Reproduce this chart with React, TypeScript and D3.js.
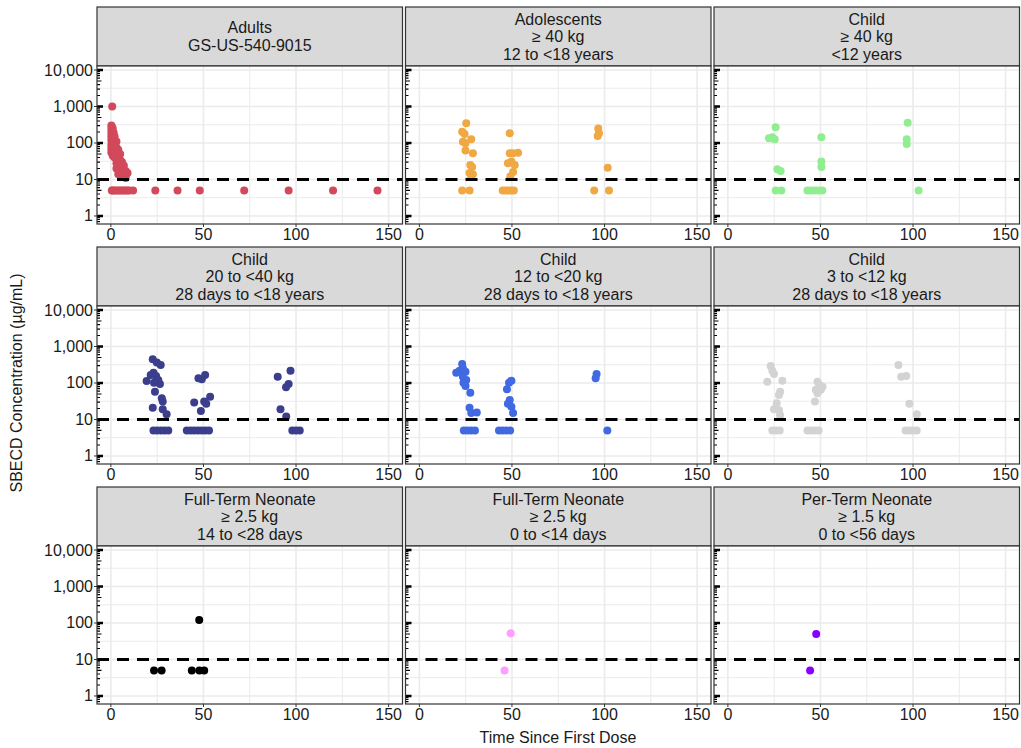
import React from "react";
import * as d3 from "d3";

// ---------- data ----------
const panelTitles: string[][] = [
  ["Adults", "GS-US-540-9015"],
  ["Adolescents", "≥ 40 kg", "12 to <18 years"],
  ["Child", "≥ 40 kg", "<12 years"],
  ["Child", "20 to <40 kg", "28 days to <18 years"],
  ["Child", "12 to <20 kg", "28 days to <18 years"],
  ["Child", "3 to <12 kg", "28 days to <18 years"],
  ["Full-Term Neonate", "≥ 2.5 kg", "14 to <28 days"],
  ["Full-Term Neonate", "≥ 2.5 kg", "0 to <14 days"],
  ["Per-Term Neonate", "≥ 1.5 kg", "0 to <56 days"],
];
const panelColors = [
  "#D1495B", "#F0A843", "#90EE90",
  "#3A3E8C", "#4169E1", "#D3D3D3",
  "#000000", "#FF9EFF", "#8A00FF",
];
const xTicks = [0, 50, 100, 150];
const xMinor = [25, 75, 125];
const yTicks = [1, 10, 100, 1000, 10000];
const yTickLabels = ["1", "10", "100", "1,000", "10,000"];
const lloq = 10;

const adults: [number, number][] = [
  [0.7, 1000],
  [0.25, 300], [0.25, 240], [0.25, 190], [0.25, 150], [0.25, 120], [0.25, 90], [0.25, 70], [0.25, 55],
  [0.5, 280], [0.5, 210], [0.5, 160], [0.5, 110], [0.5, 80], [0.5, 60],
  [1, 250], [1, 170], [1, 120], [1, 85], [1, 60], [1, 45],
  [1.5, 190], [1.5, 130], [1.5, 95], [1.5, 70],
  [2, 150], [2, 105], [2, 75], [2, 55], [2, 40],
  [3, 110], [3, 75], [3, 52], [3, 38], [3, 28], [3, 20],
  [4, 65], [4, 48], [4, 34], [4, 25], [4, 18], [4, 14],
  [5, 50], [5, 34], [5, 25], [5, 19], [5, 14],
  [6, 30], [6, 22], [6, 16], [6, 12],
  [7, 24], [7, 17], [7, 12],
  [8, 17], [8, 13], [8, 11],
  [9, 15],
  [0.5, 5], [1, 5], [2, 5], [3, 5], [4, 5], [5, 5], [6, 5], [7, 5], [8, 5], [9, 5], [10, 5], [12, 5],
  [24, 5], [36, 5], [48, 5], [72, 5], [96, 5], [120, 5], [144, 5],
];
const adolescents: [number, number][] = [
  [25.3, 347], [23.1, 204], [24.4, 177], [23.5, 109], [24.9, 98], [28, 126], [24.9, 62], [28.9, 52],
  [27.5, 25], [28.5, 22], [27.1, 15], [28.9, 14], [28, 12], [23.1, 5], [27.1, 5],
  [48.8, 185], [48.8, 52], [50.6, 52], [53.3, 54], [47.8, 28], [49.7, 31], [51.5, 25], [50.6, 16], [49.1, 12],
  [45, 5], [46.5, 5], [48, 5], [49.5, 5], [51, 5],
  [96.6, 251], [97, 185], [96.3, 155], [101.7, 21], [94.4, 5], [102.4, 5],
];
const child40: [number, number][] = [
  [25.8, 269], [22.2, 135], [24, 144], [25.3, 126], [26.7, 19], [28.5, 17], [25.8, 5], [28.9, 5],
  [50.5, 144], [50.5, 31], [50.5, 22], [43, 5], [45, 5], [47, 5], [49, 5], [51, 5],
  [97.1, 361], [96.6, 126], [96.6, 94], [103, 5],
];
const child20to40: [number, number][] = [
  [22.6, 447], [24.8, 363], [26.9, 310], [23, 191], [21.5, 166], [24.4, 155], [19.3, 113], [23.3, 102],
  [26.5, 94], [25.6, 120], [23.8, 58], [27.5, 38], [28, 31], [22.6, 21], [28, 19], [30.1, 14],
  [23, 5], [25, 5], [27, 5], [29, 5], [31, 5],
  [50.9, 166], [47.3, 134], [49.1, 126], [45, 29], [50.4, 31], [53.6, 42], [51.5, 27], [48.6, 17],
  [41, 5], [43, 5], [45, 5], [47, 5], [49, 5], [51, 5], [53, 5],
  [90.1, 148], [97, 217], [96, 94], [94.6, 76], [91.6, 19], [94.7, 12], [98, 5], [100, 5], [102, 5],
];
const child12to20: [number, number][] = [
  [23.1, 331], [21.7, 217], [23.5, 252], [24.9, 204], [19.9, 191], [23.5, 149], [25.3, 120], [23.8, 102],
  [24.9, 83], [27.5, 54], [27.1, 21], [28, 15], [31, 15.5], [24, 5], [26, 5], [28, 5], [30, 5],
  [49.7, 116], [48.4, 102], [47.3, 67], [48.8, 34], [47.8, 27], [49.7, 22.5], [50.6, 15],
  [43, 5], [45, 5], [47, 5], [49, 5],
  [95.7, 176], [95.2, 135], [101.5, 5],
];
const child3to12: [number, number][] = [
  [23.1, 293], [24, 217], [24.9, 176], [21.3, 109], [29.4, 116], [28.2, 58], [27.6, 47], [26.4, 28],
  [24.9, 19], [27.6, 18], [28.2, 13], [24, 5], [26, 5], [28, 5],
  [48.4, 109], [49.3, 89], [47.5, 65], [51.1, 79], [50.2, 65], [48.4, 52], [47, 31],
  [43, 5], [45, 5], [47, 5], [49, 5],
  [92.1, 310], [93.6, 149], [96.3, 155], [98, 27], [102, 14], [96, 5], [98, 5], [100, 5], [102, 5],
];
const neonate14to28: [number, number][] = [
  [47.7, 120], [23.3, 5], [27.4, 5], [43.7, 5], [47.8, 5], [50.4, 5],
];
const neonate0to14: [number, number][] = [[49.3, 52], [46, 5]];
const preterm: [number, number][] = [[47.7, 50], [44.4, 5]];

const panelData = [
  adults, adolescents, child40,
  child20to40, child12to20, child3to12,
  neonate14to28, neonate0to14, preterm,
];

// ---------- layout ----------
const W = 1021;
const H = 748;
const left0 = 97;
const colStep = 308.5;
const panelW = 305.5;
const top0 = 7;
const rowStep = 240;
const stripH = 59;
const panelH = 158;
const font = "'Liberation Sans', Arial, Helvetica, sans-serif";
const fs = 16;

const x = d3.scaleLinear().domain([-7.5, 157.5]).range([0, panelW]);
const y = d3.scaleLog().domain([Math.pow(10, -0.22), Math.pow(10, 4.11)]).range([panelH, 0]);

const yMinorGrid = [0, 1, 2, 3].map((d) => Math.pow(10, d + 0.5));
const logTicks: { v: number; kind: number }[] = [];
for (let d = -1; d <= 4; d++) {
  for (let k = 1; k <= 9; k++) {
    const v = k * Math.pow(10, d);
    const [lo, hi] = y.domain();
    if (v >= lo && v <= hi) logTicks.push({ v, kind: k === 1 ? 2 : k === 5 ? 1 : 0 });
  }
}

function Panel({ idx }: { idx: number }) {
  const col = idx % 3;
  const row = Math.floor(idx / 3);
  const px = left0 + col * colStep;
  const sy = top0 + row * rowStep;
  const py = sy + stripH;
  const lines = panelTitles[idx];
  const lh = 17.5;
  const cy = sy + stripH / 2;
  const clipId = `clip${idx}`;
  return (
    <g>
      <defs>
        <clipPath id={clipId}>
          <rect x={0} y={0} width={panelW} height={panelH} />
        </clipPath>
      </defs>
      {/* strip */}
      <rect x={px} y={sy} width={panelW} height={stripH} fill="#D9D9D9" stroke="#333333" strokeWidth={1.2} />
      {lines.map((t, i) => (
        <text
          key={i}
          x={px + panelW / 2}
          y={cy + (i - (lines.length - 1) / 2) * lh}
          textAnchor="middle"
          dominantBaseline="central"
          fontFamily={font}
          fontSize={fs}
          fill="#1A1A1A"
        >
          {t}
        </text>
      ))}
      <g transform={`translate(${px},${py})`}>
        <rect x={0} y={0} width={panelW} height={panelH} fill="#FFFFFF" />
        <g clipPath={`url(#${clipId})`}>
          {xMinor.map((v) => (
            <line key={"xm" + v} x1={x(v)} x2={x(v)} y1={0} y2={panelH} stroke="#EBEBEB" strokeWidth={1} />
          ))}
          {yMinorGrid.map((v) => (
            <line key={"ym" + v} x1={0} x2={panelW} y1={y(v)} y2={y(v)} stroke="#EBEBEB" strokeWidth={1} />
          ))}
          {xTicks.map((v) => (
            <line key={"xg" + v} x1={x(v)} x2={x(v)} y1={0} y2={panelH} stroke="#EBEBEB" strokeWidth={1.6} />
          ))}
          {yTicks.map((v) => (
            <line key={"yg" + v} x1={0} x2={panelW} y1={y(v)} y2={y(v)} stroke="#EBEBEB" strokeWidth={1.6} />
          ))}
          {logTicks.map((t, i) => (
            <line
              key={"lt" + i}
              x1={0}
              x2={t.kind === 2 ? 6 : t.kind === 1 ? 4.5 : 3}
              y1={y(t.v)}
              y2={y(t.v)}
              stroke="#000000"
              strokeWidth={t.kind === 2 ? 2.4 : 1.2}
            />
          ))}
          {panelData[idx].map((d, i) => (
            <circle key={"p" + i} cx={x(d[0])} cy={y(d[1])} r={4} fill={panelColors[idx]} />
          ))}
          <line
            x1={0}
            x2={panelW}
            y1={y(lloq)}
            y2={y(lloq)}
            stroke="#000000"
            strokeWidth={2.8}
            strokeDasharray="12 8"
          />
        </g>
        <rect x={0} y={0} width={panelW} height={panelH} fill="none" stroke="#333333" strokeWidth={1.2} />
        {/* x axis */}
        {xTicks.map((v) => (
          <g key={"xt" + v}>
            <line x1={x(v)} x2={x(v)} y1={panelH} y2={panelH + 3} stroke="#333333" strokeWidth={1} />
            <text x={x(v)} y={panelH + 16} textAnchor="middle" fontFamily={font} fontSize={fs} fill="#1A1A1A">
              {v}
            </text>
          </g>
        ))}
        {/* y axis */}
        {col === 0 &&
          yTicks.map((v, i) => (
            <g key={"yt" + v}>
              <line x1={-3} x2={0} y1={y(v)} y2={y(v)} stroke="#333333" strokeWidth={1} />
              <text
                x={-4}
                y={y(v)}
                textAnchor="end"
                dominantBaseline="central"
                fontFamily={font}
                fontSize={fs}
                fill="#1A1A1A"
              >
                {yTickLabels[i]}
              </text>
            </g>
          ))}
      </g>
    </g>
  );
}

export default function App() {
  return (
    <svg
      width={W}
      height={H}
      viewBox={`0 0 ${W} ${H}`}
      style={{ position: "absolute", left: 0, top: 0, background: "#FFFFFF" }}
    >
      <rect x={0} y={0} width={W} height={H} fill="#FFFFFF" />
      {panelTitles.map((_, i) => (
        <Panel key={i} idx={i} />
      ))}
      <text
        transform={`translate(22,383) rotate(-90)`}
        textAnchor="middle"
        fontFamily={font}
        fontSize={fs}
        fill="#1A1A1A"
      >
        SBECD Concentration (µg/mL)
      </text>
      <text x={558} y={743} textAnchor="middle" fontFamily={font} fontSize={fs} fill="#1A1A1A">
        Time Since First Dose
      </text>
    </svg>
  );
}
